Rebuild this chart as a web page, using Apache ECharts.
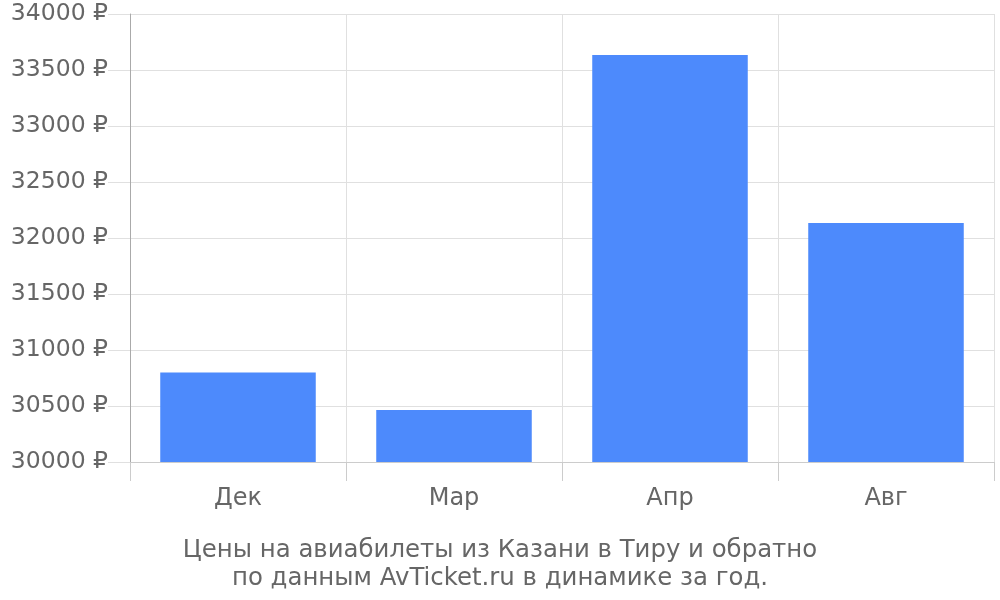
<!DOCTYPE html>
<html><head><meta charset="utf-8">
<script src="https://cdn.jsdelivr.net/npm/echarts@6/dist/echarts.min.js"></script>
<style>html,body{margin:0;padding:0;background:#fff}#c{width:1000px;height:600px}</style>
</head><body><div id="c"></div>
<script>
var categories = ['Дек', 'Мар', 'Апр', 'Авг'];
var prices = [30800, 30465, 33635, 32135];
var titleLines = ['Цены на авиабилеты из Казани в Тиру и обратно', 'по данным AvTicket.ru в динамике за год.'];

var chart = echarts.init(document.getElementById('c'), null, {renderer: 'canvas'});
chart.setOption({
  animation: false,
  textStyle: {fontFamily: 'DejaVu Sans'},
  title: {
    text: titleLines.join('\n'),
    left: 'center', top: 532,
    textStyle: {fontFamily: 'DejaVu Sans', fontSize: 24.4, fontWeight: 'normal', color: '#666', lineHeight: 28}
  },
  grid: {left: 130, right: 6, top: 14, bottom: 138},
  xAxis: {
    type: 'category', data: categories,
    axisLine: {lineStyle: {color: '#ccc', width: 1}},
    axisTick: {show: true, length: 19, lineStyle: {color: '#ccc'}},
    splitLine: {show: true, lineStyle: {color: '#e0e0e0'}},
    axisLabel: {fontFamily: 'DejaVu Sans', fontSize: 24, color: '#666', margin: 25}
  },
  yAxis: {
    type: 'value', min: 30000, max: 34000, interval: 500,
    axisLine: {show: true, lineStyle: {color: '#aaa', width: 1}},
    axisTick: {show: true, length: 22, lineStyle: {color: '#e0e0e0'}},
    splitLine: {show: true, lineStyle: {color: '#e0e0e0'}},
    axisLabel: {fontFamily: 'DejaVu Sans', fontSize: 23.5, color: '#666', margin: 22,
      formatter: function (v) { return v + ' ₽'; }}
  },
  series: [{
    type: 'bar', data: prices, barCategoryGap: '28%',
    itemStyle: {color: '#4d8afc'}
  }]
});
</script></body></html>
